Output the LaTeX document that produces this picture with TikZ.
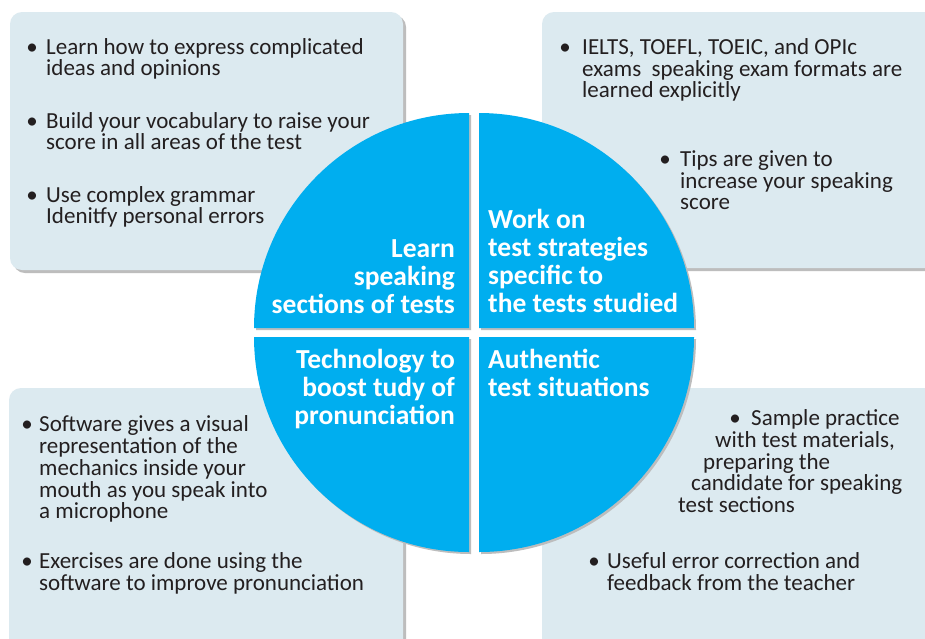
\documentclass[tikz,border=0pt]{standalone}
\usepackage{fontspec}
\setmainfont{Carlito}
\definecolor{boxfill}{HTML}{DCEAF0}
\definecolor{cblue}{HTML}{00AEEF}
\definecolor{shad}{HTML}{BDBDBD}
\definecolor{txt}{HTML}{231F20}
\begin{document}
\begin{tikzpicture}[x=1pt,y=-1pt,
  box/.style={fill=boxfill, rounded corners=12pt},
  boxshadow/.style={fill=shad, rounded corners=12pt},
  quad/.style={fill=cblue},
  quadshadow/.style={fill=shad},
  ln/.style={anchor=base west, inner sep=0pt, text=txt, text height=15pt, text depth=4pt, font=\fontsize{23}{24}\selectfont},
  bul/.style={anchor=base, inner sep=0pt, text=txt, text height=15pt, text depth=4pt, font=\fontsize{23}{24}\selectfont},
  headL/.style={anchor=base east, inner sep=0pt, text=white, text height=18pt, text depth=5pt, font=\bfseries\fontsize{27.5}{29}\selectfont},
  headR/.style={anchor=base west, inner sep=0pt, text=white, text height=18pt, text depth=5pt, font=\bfseries\fontsize{27.5}{29}\selectfont}]
\useasboundingbox (0,0) rectangle (925,638);
\clip (0,0) rectangle (925,638);
\fill[white] (0,0) rectangle (925,638);
% boxes
\fill[boxshadow] (13,15) rectangle (406,273);
\fill[box] (10,12) rectangle (403,270);
\fill[boxshadow] (545,15) rectangle (940,271);
\fill[box] (542,12) rectangle (937,268);
\fill[boxshadow] (12,391) rectangle (406,660);
\fill[box] (9,388) rectangle (403,660);
\fill[box] (542,388) rectangle (937,660);
% circle quadrants
\begin{scope}[shift={(2,2)}]
\fill[quadshadow] (469,328) -- (254,328) arc[start angle=180,end angle=270,radius=215] -- cycle;
\fill[quadshadow] (479,328) -- (479,113) arc[start angle=270,end angle=360,radius=215] -- cycle;
\fill[quadshadow] (469,337) -- (469,552) arc[start angle=90,end angle=180,radius=215] -- cycle;
\fill[quadshadow] (479,337) -- (694,337) arc[start angle=0,end angle=90,radius=215] -- cycle;
\end{scope}
\fill[quad] (469,328) -- (254,328) arc[start angle=180,end angle=270,radius=215] -- cycle;
\fill[quad] (479,328) -- (479,113) arc[start angle=270,end angle=360,radius=215] -- cycle;
\fill[quad] (469,337) -- (469,552) arc[start angle=90,end angle=180,radius=215] -- cycle;
\fill[quad] (479,337) -- (694,337) arc[start angle=0,end angle=90,radius=215] -- cycle;
% circle headings
\node[headL] (h11) at (455,257) {Learn};
\node[headL] (h12) at (455,285) {speaking};
\node[headL] (h13) at (455,313) {sections of tests};
\node[headR] (h21) at (488,228) {Work on};
\node[headR] (h22) at (488,256) {test strategies};
\node[headR] (h23) at (488,284) {specific to};
\node[headR] (h24) at (488,312) {the tests studied};
\node[headL] (h31) at (455,368) {Technology to};
\node[headL] (h32) at (455,396) {boost tudy of};
\node[headL] (h33) at (455,424) {pronunciation};
\node[headR] (h41) at (488,368) {Authentic};
\node[headR] (h42) at (488,396) {test situations};
% top-left box
\node[bul] (b11) at (32,54) {•};
\node[ln] (t11) at (46,54) {Learn how to express complicated};
\node[ln] (t12) at (46,75) {ideas and opinions};
\node[bul] (b12) at (32,128) {•};
\node[ln] (t13) at (46,128) {Build your vocabulary to raise your};
\node[ln] (t14) at (46,149) {score in all areas of the test};
\node[bul] (b13) at (32,202) {•};
\node[ln] (t15) at (46,202) {Use complex grammar};
\node[ln] (t16) at (46,223) {Idenitfy personal errors};
% top-right box
\node[bul] (b21) at (565,54) {•};
\node[ln] (t21) at (582,54) {IELTS, TOEFL, TOEIC, and OPIc};
\node[ln] (t22) at (582,76) {exams\ \ speaking exam formats are};
\node[ln] (t23) at (582,97) {learned explicitly};
\node[bul] (b22) at (665,166) {•};
\node[ln] (t24) at (680,166) {Tips are given to};
\node[ln] (t25) at (680,188) {increase your speaking};
\node[ln] (t26) at (680,209) {score};
% bottom-left box
\node[bul] (b31) at (27,431) {•};
\node[ln] (t31) at (39,431) {Software gives a visual};
\node[ln] (t32) at (39,453) {representation of the};
\node[ln] (t33) at (39,475) {mechanics inside your};
\node[ln] (t34) at (39,497) {mouth as you speak into};
\node[ln] (t35) at (39,518) {a microphone};
\node[bul] (b32) at (27,568) {•};
\node[ln] (t36) at (39,568) {Exercises are done using the};
\node[ln] (t37) at (39,590) {software to improve pronunciation};
% bottom-right box
\node[bul] (b41) at (735,425) {•};
\node[ln] (t41) at (751,425) {Sample practice};
\node[ln] (t42) at (715,447) {with test materials,};
\node[ln] (t43) at (703,469) {preparing the};
\node[ln] (t44) at (691,490) {candidate for speaking};
\node[ln] (t45) at (678,512) {test sections};
\node[bul] (b42) at (594,568) {•};
\node[ln] (t46) at (607,568) {Useful error correction and};
\node[ln] (t47) at (607,590) {feedback from the teacher};
\end{tikzpicture}
\end{document}
